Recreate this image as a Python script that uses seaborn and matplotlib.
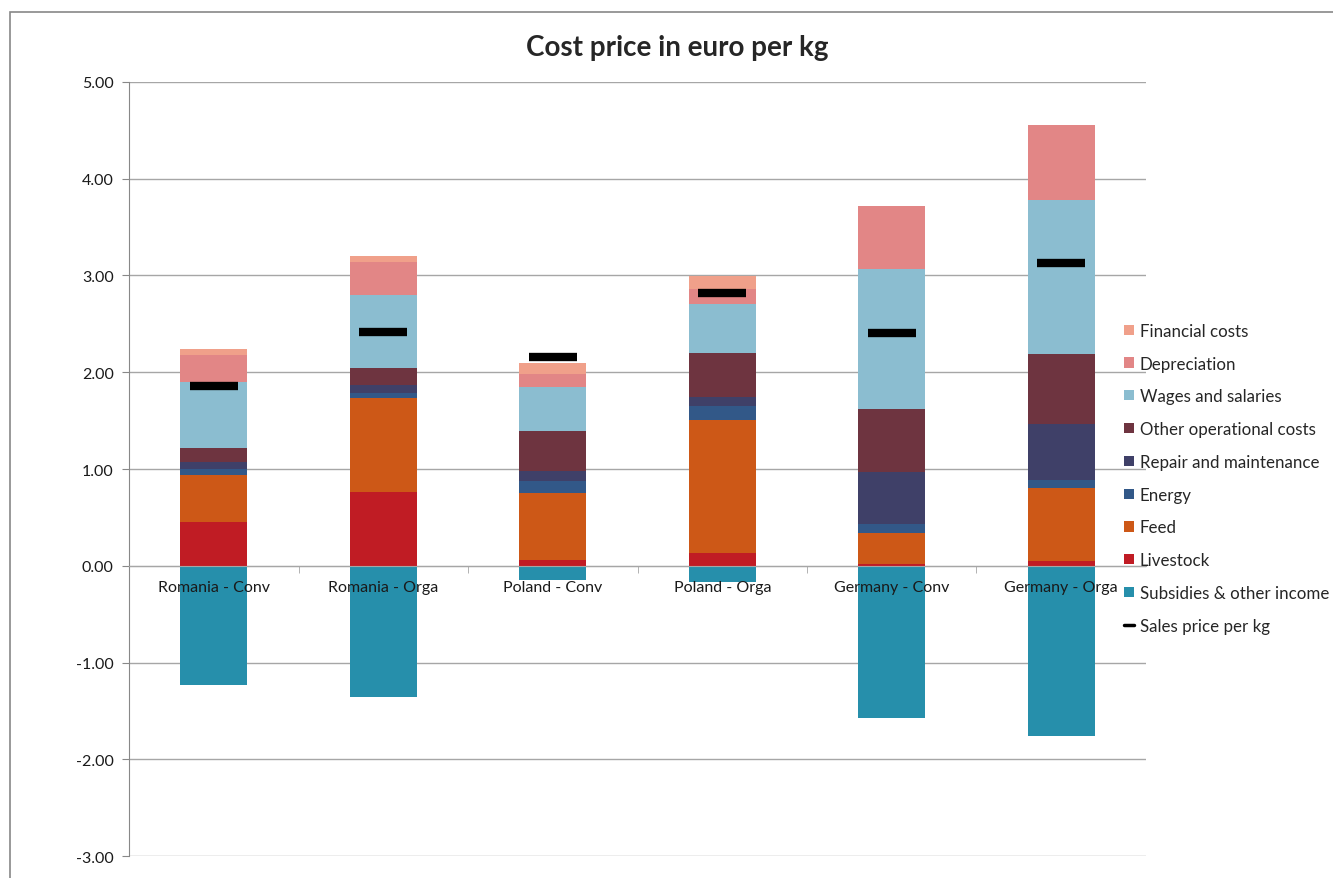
import numpy as np
import pandas as pd
import matplotlib
matplotlib.use("Agg")
import matplotlib.pyplot as plt
import seaborn as sns
from matplotlib.patches import Patch, Rectangle
from matplotlib.lines import Line2D
from matplotlib.ticker import FixedLocator, FormatStrFormatter

# ==========================================================
# DATA
# ==========================================================

categories = ["Romania - Conv", "Romania - Orga", "Poland - Conv",
              "Poland - Orga", "Germany - Conv", "Germany - Orga"]

livestock = [0.45, 0.76, 0.055, 0.135, 0.02, 0.05]
feed = [0.49, 0.97, 0.70, 1.37, 0.32, 0.75]
energy = [0.06, 0.06, 0.12, 0.15, 0.09, 0.09]
repair = [0.07, 0.08, 0.10, 0.09, 0.54, 0.58]
other_costs = [0.15, 0.17, 0.42, 0.45, 0.65, 0.72]
wages = [0.68, 0.76, 0.45, 0.51, 1.445, 1.59]
depreciation = [0.28, 0.34, 0.14, 0.16, 0.65, 0.78]
financial = [0.06, 0.06, 0.11, 0.13, 0.0, 0.0]
subsidies = [-1.23, -1.36, -0.15, -0.17, -1.57, -1.76]
sales_price = [1.86, 2.42, 2.16, 2.82, 2.41, 3.13]

# bottom to top
layer_names = ["Livestock", "Feed", "Energy", "Repair and maintenance",
               "Other operational costs", "Wages and salaries",
               "Depreciation", "Financial costs"]
layer_values = [livestock, feed, energy, repair, other_costs, wages,
                depreciation, financial]
layer_colors = ["#C01C24", "#CD5817", "#325888", "#3F4068",
                "#6E3440", "#8BBDD0", "#E28686", "#F0A08A"]
subsidy_color = "#268FAB"

# ==========================================================
# PLOT
# ==========================================================

sns.set_style("white")
plt.rcParams['font.family'] = ['Lato', 'DejaVu Sans']

fig = plt.figure(figsize=(13.33, 8.79), dpi=100)
ax = fig.add_axes([0.0968, 0.025, 0.7629, 0.8806])

df = pd.DataFrame({"category": categories})
cum = np.zeros(len(categories))
cums = []
for vals in layer_values:
    cum = cum + np.array(vals)
    cums.append(cum.copy())

# stack by drawing cumulative totals, tallest first
for name, total, color in reversed(list(zip(layer_names, cums, layer_colors))):
    df["value"] = total
    sns.barplot(data=df, x="category", y="value", color=color,
                width=0.395, saturation=1, linewidth=0, ax=ax, zorder=2)

df["value"] = subsidies
sns.barplot(data=df, x="category", y="value", color=subsidy_color,
            width=0.395, saturation=1, linewidth=0, ax=ax, zorder=2)

df["value"] = sales_price
sns.scatterplot(data=df, x="category", y="value", marker="_", s=34 ** 2,
                color="black", linewidth=6, ax=ax, zorder=4, legend=False)

# axes styling
ax.set_xlim(-0.5, len(categories) - 0.5)
ax.set_ylim(-3, 5)
ax.set_xlabel("")
ax.set_ylabel("")
ax.yaxis.set_major_locator(FixedLocator(np.arange(-3, 6, 1)))
ax.yaxis.set_major_formatter(FormatStrFormatter("%.2f"))
ax.grid(axis="y", color="#A6A6A6", linewidth=1, zorder=0)
ax.set_axisbelow(True)

for side in ["top", "right"]:
    ax.spines[side].set_visible(False)
ax.spines["left"].set_color("#888888")
ax.spines["bottom"].set_position(("data", 0))
ax.spines["bottom"].set_color("#A6A6A6")
ax.spines["bottom"].set_zorder(3)

ax.tick_params(axis="y", left=True, length=5, color="#888888",
               labelsize=11.5, pad=6, labelcolor="#1a1a1a")
ax.tick_params(axis="x", which="major", length=0, labelsize=11.5,
               pad=10, labelcolor="#1a1a1a")
ax.xaxis.set_minor_locator(FixedLocator(np.arange(0.5, len(categories) - 0.5, 1)))
ax.tick_params(axis="x", which="minor", bottom=True, length=5,
               color="#A6A6A6", direction="out")
# category labels sit on top of the negative bars
ax.xaxis.set_zorder(5)

fig.text(0.508, 0.945, "Cost price in euro per kg", ha="center",
         va="center", fontsize=20, fontweight="bold")

# legend: top entry = Financial costs
handles = [Patch(facecolor=c, edgecolor="none", label=n)
           for n, c in reversed(list(zip(layer_names, layer_colors)))]
handles.append(Patch(facecolor=subsidy_color, edgecolor="none",
                     label="Subsidies & other income"))
handles.append(Line2D([0], [0], color="black", linewidth=2.5,
                      label="Sales price per kg"))
fig.legend(handles=handles, loc="upper left",
           bbox_to_anchor=(0.832, 0.649), frameon=False, fontsize=12.2,
           handlelength=0.55, handleheight=0.55, handletextpad=0.35,
           labelspacing=0.99)

# outer chart frame
fig.patches.append(Rectangle((10 / 1333, -0.1), 1.1, 1.1 - 13 / 879,
                             transform=fig.transFigure, fill=False,
                             edgecolor="#888888", linewidth=1.2))

fig.savefig("out.png", dpi=100)
